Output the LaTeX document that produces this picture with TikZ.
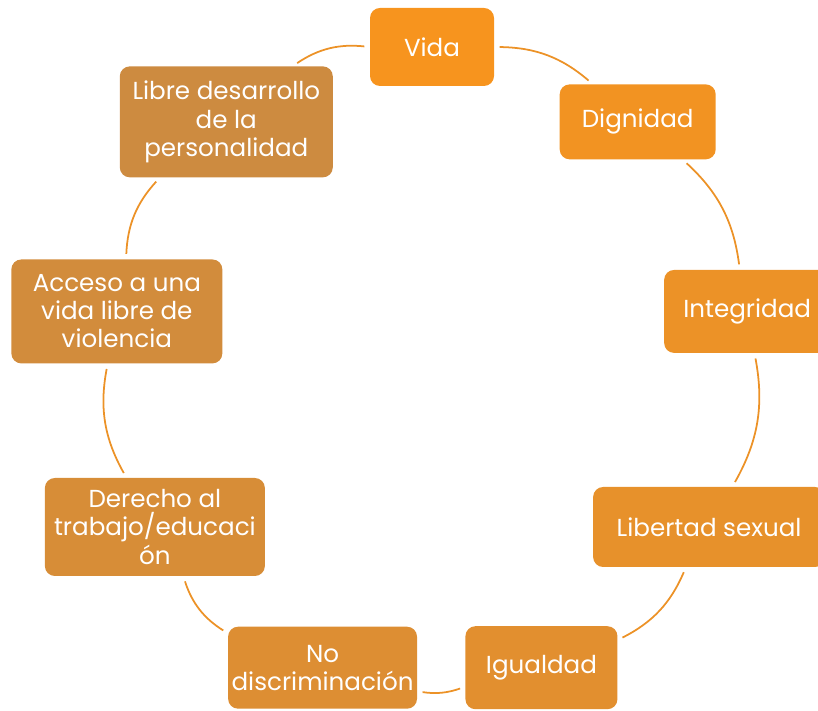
\documentclass[tikz,border=0pt]{standalone}
\usepackage{fontspec}
\setmainfont{Poppins}
\usetikzlibrary{calc}
\definecolor{cycleA}{HTML}{F7941E}
\definecolor{cycleB}{HTML}{CD8B40}
\begin{document}
\begin{tikzpicture}[x=0.02cm,y=0.02cm]
\tikzset{
	cyclebox/.style={rounded corners=0.2cm, text=white, align=center,
		font=\fontsize{14}{16}\selectfont, inner sep=2pt},
	cycleline/.style={draw=cycleA!75!cycleB, line width=1pt,
		shorten <=3pt, shorten >=3pt}
}
\useasboundingbox (0,0) rectangle (818,710);
\coordinate (center) at (432,343);
%%% Boxes round the circle, 40 degrees apart
\foreach \i/\ang/\w/\h/\txt in {
	1/90/124/78/{Vida},
	2/50/156/75/{Dignidad},
	3/10/166/83/{Integridad},
	4/-30/232/80/{Libertad sexual},
	5/-70/152/83/{Igualdad},
	6/-110/182/82/{No\\discriminación},
	7/-150/220/98/{Derecho al\\trabajo/educaci\\ón},
	8/170/211/104/{Acceso a una\\vida libre de\\violencia},
	9/130/213/111/{Libre desarrollo\\de la\\personalidad}}
{
	\pgfmathtruncatemacro{\p}{100-12.5*(\i-1)};
	\node[cyclebox, fill=cycleA!\p!cycleB,
		minimum width=\w*0.02cm, minimum height=\h*0.02cm]
		(n\i) at ($(center)+(\ang:320)$) {\txt};
}
%%% Arcs between neighbours
\foreach \i/\b in {1/20,2/20,3/20,4/20,5/14,6/20,7/20,8/20,9/20}
{
	\pgfmathtruncatemacro{\j}{mod(\i,9)+1};
	\draw[cycleline] (n\i) to[bend left=\b] (n\j);
}
\end{tikzpicture}
\end{document}
